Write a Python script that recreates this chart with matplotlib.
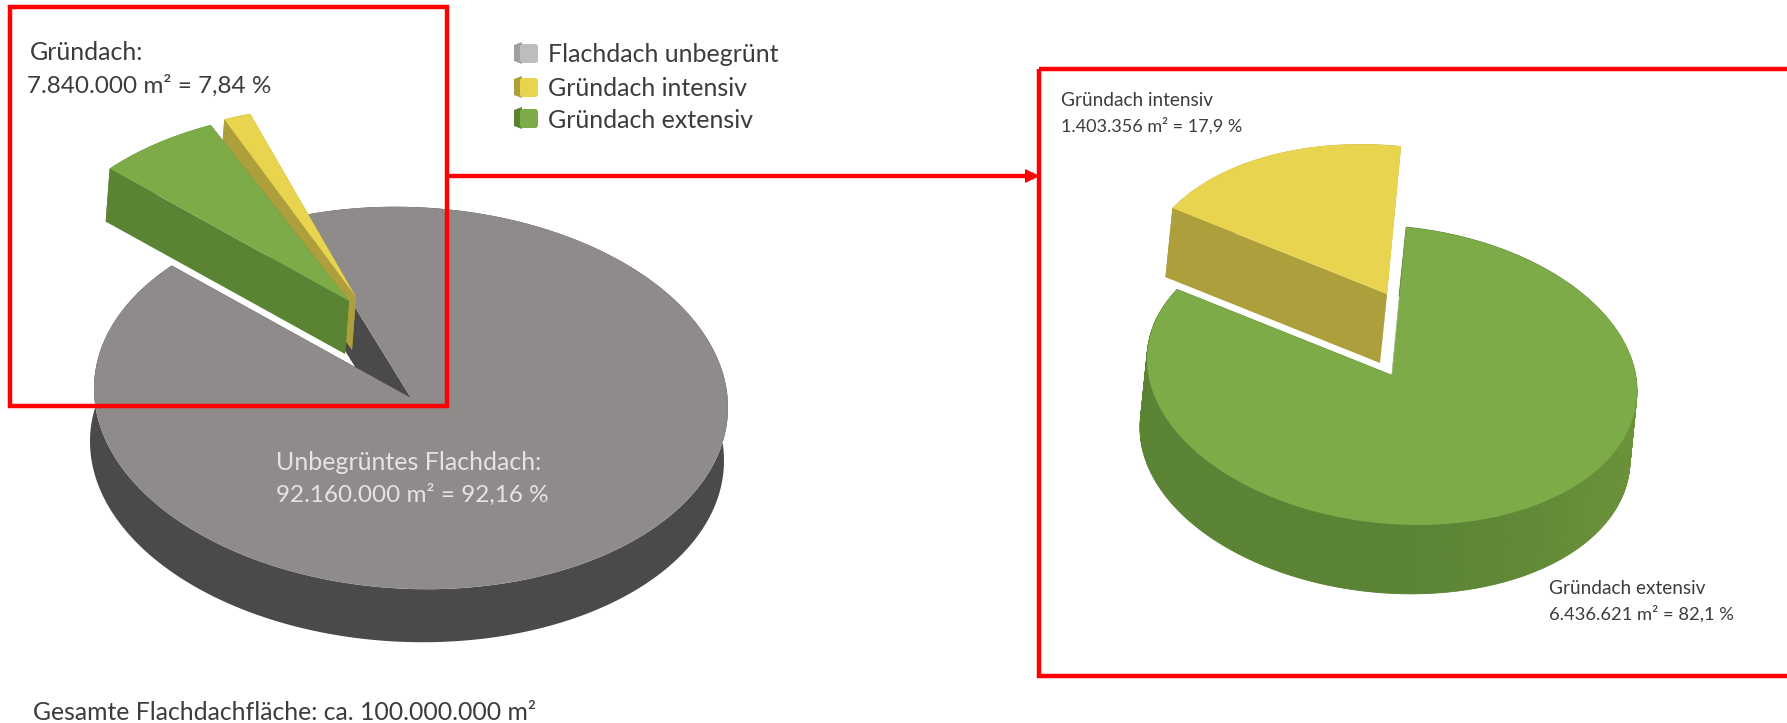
import numpy as np
import matplotlib
matplotlib.use('Agg')
import matplotlib.pyplot as plt
from matplotlib.colors import to_rgb
from matplotlib.patches import Polygon, Rectangle, FancyBboxPatch

# flachdach areas in m2
total_area = 100000000
flat_area = 92160000
green_area = 7840000
intensive_area = 1403356
extensive_area = 6436621

left_labels = ['Gründach:', '7.840.000 m² = 7,84 %']
flat_labels = ['Unbegrüntes Flachdach:', '92.160.000 m² = 92,16 %']
intensive_labels = ['Gründach intensiv', '1.403.356 m² = 17,9 %']
extensive_labels = ['Gründach extensiv', '6.436.621 m² = 82,1 %']
legend_labels = ['Flachdach unbegrünt', 'Gründach intensiv', 'Gründach extensiv']
total_label = 'Gesamte Flachdachfläche: ca. 100.000.000 m²'

GREY, GREY_D = '#8e8b8a', '#4b4a4b'
YELLOW, YELLOW_D = '#e8d44f', '#ad9f3b'
GREEN, GREEN_D = '#7cab47', '#5a8334'
RED = '#fe0000'
TEXT = '#3c3c3c'

plt.rcParams['font.family'] = ['Lato', 'DejaVu Sans']

fig = plt.figure(figsize=(17.87, 7.23), dpi=100)
ax = fig.add_axes([0, 0, 1, 1])
ax.set_xlim(0, 1787)
ax.set_ylim(723, 0)
ax.axis('off')


def point(cx, cy, rx, ry, tilt, angle):
    # angle in degree, counted from straight up going left
    a = np.radians(angle)
    x = -rx * np.sin(a)
    return np.array([cx + x, cy - ry * np.cos(a) + tilt * x])


def slice3d(pie, start, share, top, wall, shift=(0, 0), z=2, wall_light=None):
    cx, cy, rx, ry, tilt, dx, dy = pie
    cx = cx + shift[0]
    cy = cy + shift[1]
    end = start + 360.0 * share
    angles = np.linspace(start, end, 360)
    arc = np.array([point(cx, cy, rx, ry, tilt, a) for a in angles])
    low = arc + [dx, dy]
    apex = np.array([cx, cy])
    # walls first, the top surface covers what is behind it
    for edge in (arc[0], arc[-1]):
        quad = [apex, edge, edge + [dx, dy], apex + [dx, dy]]
        ax.add_patch(Polygon(quad, fc=wall, ec='none', zorder=z))
    if wall_light is None:
        ax.add_patch(Polygon(np.vstack([arc, low[::-1]]), fc=wall, ec='none', zorder=z))
    else:
        # outer wall gets lighter to the right
        dark = np.array(to_rgb(wall))
        light = np.array(to_rgb(wall_light))
        for i in range(len(arc) - 1):
            f = np.clip((arc[i, 0] - cx) / rx, 0, 1) ** 1.5
            c = dark + (light - dark) * f
            quad = [arc[i], arc[i + 1], low[i + 1], low[i]]
            ax.add_patch(Polygon(quad, fc=c, ec=c, lw=0.6, zorder=z))
    ax.add_patch(Polygon(np.vstack([apex, arc]), fc=top, ec='none', zorder=z + 0.5))


# left pie: cx, cy, rx, ry, tilt, wall dx, wall dy
pie_a = (411, 398, 317, 191, 0.03, -4, 53)
slice3d(pie_a, 49.0, flat_area / total_area, GREY, GREY_D)
slice3d(pie_a, 19.5, intensive_area / total_area, YELLOW, YELLOW_D, shift=(-55, -101), z=3)
slice3d(pie_a, 20.8 + 360.0 * intensive_area / total_area, extensive_area / total_area,
        GREEN, GREEN_D, shift=(-62, -97), z=4)

# right pie
green_sum = intensive_area + extensive_area
pie_b = (1392, 375, 245, 149, 0.065, -7, 69)
slice3d(pie_b, -3.3 + 360.0 * intensive_area / green_sum, extensive_area / green_sum,
        GREEN, GREEN_D, wall_light='#6b9239')
slice3d(pie_b, -3.3, intensive_area / green_sum, YELLOW, YELLOW_D, shift=(-5, -81), z=3)

# red boxes and arrow
ax.add_patch(Rectangle((10, 7), 437, 399, fc='none', ec=RED, lw=3.2, zorder=6))
ax.add_patch(Rectangle((1039, 69), 800, 607, fc='none', ec=RED, lw=3.2, zorder=6))
ax.plot([447, 1030], [176, 176], color=RED, lw=3.2, zorder=6, solid_capstyle='butt')
ax.add_patch(Polygon([[1025, 169], [1040, 176], [1025, 183]], fc=RED, ec='none', zorder=6))

# legend with small boxes
legend_y = [53, 87, 118]
legend_col = [('#bdbdbd', '#a0a0a0'), (YELLOW, YELLOW_D), (GREEN, GREEN_D)]
for y, label, (c, d) in zip(legend_y, legend_labels, legend_col):
    ax.add_patch(Polygon([[514, y - 8], [522, y - 11], [522, y + 11], [514, y + 8]], fc=d, ec='none', zorder=5))
    ax.add_patch(FancyBboxPatch((520, y - 9), 18, 19, boxstyle='round,pad=0,rounding_size=3',
                                fc=c, ec='none', zorder=5))
    ax.text(548, y + 2, label, fontsize=18, color=TEXT, va='center', ha='left')

ax.text(30, 53, left_labels[0], fontsize=18, color=TEXT, va='center')
ax.text(27, 86, left_labels[1], fontsize=17.5, color=TEXT, va='center')
ax.text(276, 463, flat_labels[0], fontsize=18, color='#e4e4e4', va='center', zorder=7)
ax.text(276, 495, flat_labels[1], fontsize=17.5, color='#e4e4e4', va='center', zorder=7)
ax.text(1061, 100, intensive_labels[0], fontsize=13.7, color=TEXT, va='center')
ax.text(1061, 126, intensive_labels[1], fontsize=13, color=TEXT, va='center')
ax.text(1549, 589, extensive_labels[0], fontsize=13.7, color=TEXT, va='center')
ax.text(1549, 614, extensive_labels[1], fontsize=13.2, color=TEXT, va='center')
ax.text(33, 712, total_label, fontsize=17.8, color=TEXT, va='center')

fig.savefig('out.png', dpi=100)
